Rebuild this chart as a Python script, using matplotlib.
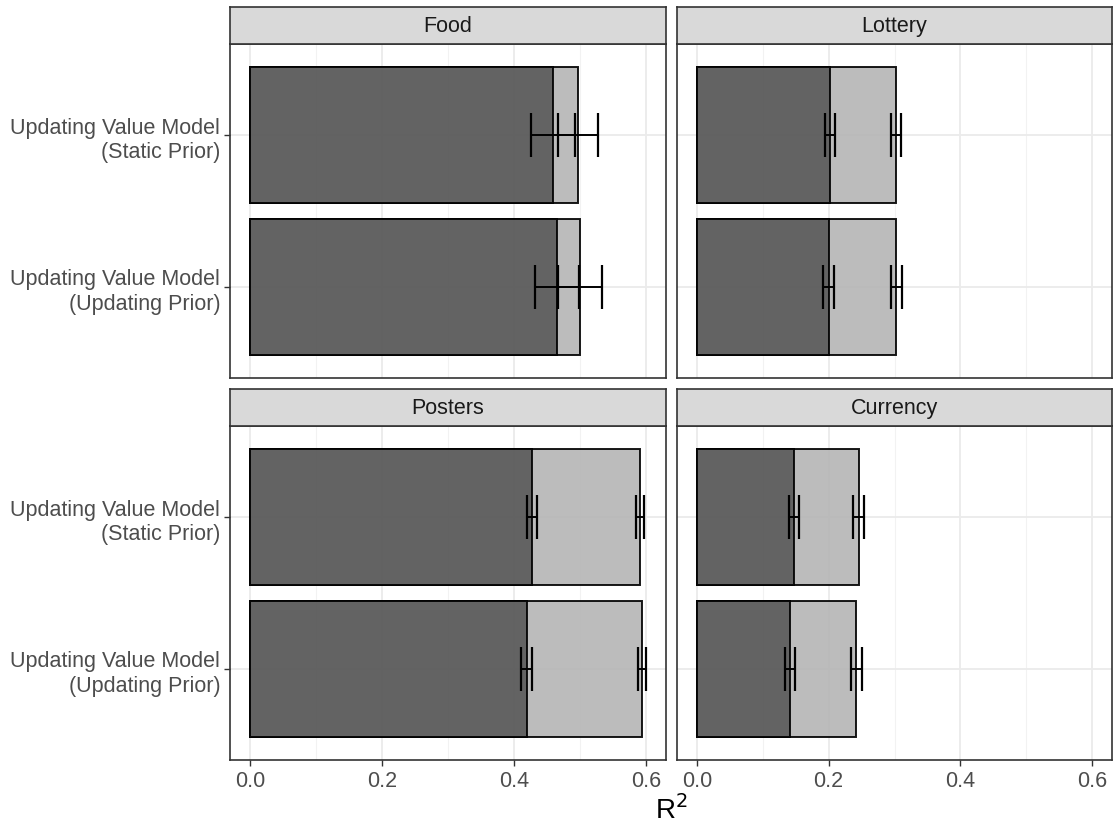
import numpy as np
import matplotlib
matplotlib.use("Agg")
import matplotlib.pyplot as plt

plt.rcParams["font.family"] = ["Liberation Sans", "DejaVu Sans"]

# data
panels = ["Food", "Lottery", "Posters", "Currency"]
models = ["Updating Value Model\n(Static Prior)", "Updating Value Model\n(Updating Prior)"]

# R^2 for the dark (lower) bars and the light (upper) bars, per panel: [static, updating]
dark_r2 = {
    "Food": [0.459, 0.465],
    "Lottery": [0.202, 0.200],
    "Posters": [0.427, 0.419],
    "Currency": [0.147, 0.142],
}
dark_se = {
    "Food": [0.033, 0.033],
    "Lottery": [0.008, 0.008],
    "Posters": [0.0075, 0.0078],
    "Currency": [0.0075, 0.0076],
}
light_r2 = {
    "Food": [0.497, 0.500],
    "Lottery": [0.302, 0.303],
    "Posters": [0.590, 0.594],
    "Currency": [0.246, 0.242],
}
light_se = {
    "Food": [0.030, 0.033],
    "Lottery": [0.008, 0.008],
    "Posters": [0.006, 0.006],
    "Currency": [0.0083, 0.0083],
}

W, H = 1113, 829
fig = plt.figure(figsize=(W / 100, H / 100), dpi=100)

# panel boxes in pixels: (left, top, right, bottom)
boxes = {
    "Food": (230, 45, 666, 379),
    "Lottery": (677, 45, 1112, 379),
    "Posters": (230, 427, 666, 761),
    "Currency": (677, 427, 1112, 761),
}
strip_h = 37

ypos = [2, 1]  # static on top, updating below
tick_fs = 15.5
border = "#333333"

for name in panels:
    l, t, r, b = boxes[name]
    ax = fig.add_axes([l / W, 1 - b / H, (r - l) / W, (b - t) / H])
    ax.set_xlim(-0.03, 0.63)
    ax.set_ylim(0.4, 2.6)
    ax.set_xticks([0.0, 0.2, 0.4, 0.6])
    ax.set_xticks([0.1, 0.3, 0.5], minor=True)
    ax.set_yticks(ypos)
    ax.grid(True, which="major", color="#EBEBEB", linewidth=1.3, zorder=0)
    ax.grid(True, which="minor", axis="x", color="#F2F2F2", linewidth=0.8, zorder=0)
    ax.set_axisbelow(True)

    ax.barh(ypos, light_r2[name], height=0.9, color="#B5B5B5", alpha=0.9,
            edgecolor="black", linewidth=1.4, zorder=2)
    ax.barh(ypos, dark_r2[name], height=0.9, color="#595959", alpha=0.9,
            edgecolor="black", linewidth=1.4, zorder=3)
    ax.errorbar(dark_r2[name], ypos, xerr=dark_se[name], fmt="none", ecolor="black",
                elinewidth=1.4, capsize=16, capthick=1.6, zorder=4)
    ax.errorbar(light_r2[name], ypos, xerr=light_se[name], fmt="none", ecolor="black",
                elinewidth=1.4, capsize=16, capthick=1.6, zorder=4)

    for s in ax.spines.values():
        s.set_color(border)
        s.set_linewidth(1.2)
    ax.tick_params(axis="both", which="major", length=4, color=border, width=1,
                   labelsize=tick_fs, labelcolor="#4D4D4D", pad=3)
    ax.tick_params(axis="x", which="minor", length=0)

    if l == 230:
        ax.set_yticklabels(models, ha="right")
    else:
        ax.set_yticklabels([])
        ax.tick_params(axis="y", length=0)
    if b == 761:
        ax.set_xticklabels(["0.0", "0.2", "0.4", "0.6"])
    else:
        ax.set_xticklabels([])
        ax.tick_params(axis="x", which="major", length=0)

    # strip
    sax = fig.add_axes([l / W, 1 - t / H, (r - l) / W, strip_h / H])
    sax.set_facecolor("#D9D9D9")
    sax.set_xticks([])
    sax.set_yticks([])
    for s in sax.spines.values():
        s.set_color(border)
        s.set_linewidth(1.2)
    sax.text(0.5, 0.5, name, ha="center", va="center", fontsize=tick_fs,
             color="#1A1A1A", transform=sax.transAxes)

fig.text(671 / W, 1 - 810 / H, r"R$^2$", ha="center", va="center", fontsize=20,
         color="black")

fig.savefig("out.png", dpi=100)
